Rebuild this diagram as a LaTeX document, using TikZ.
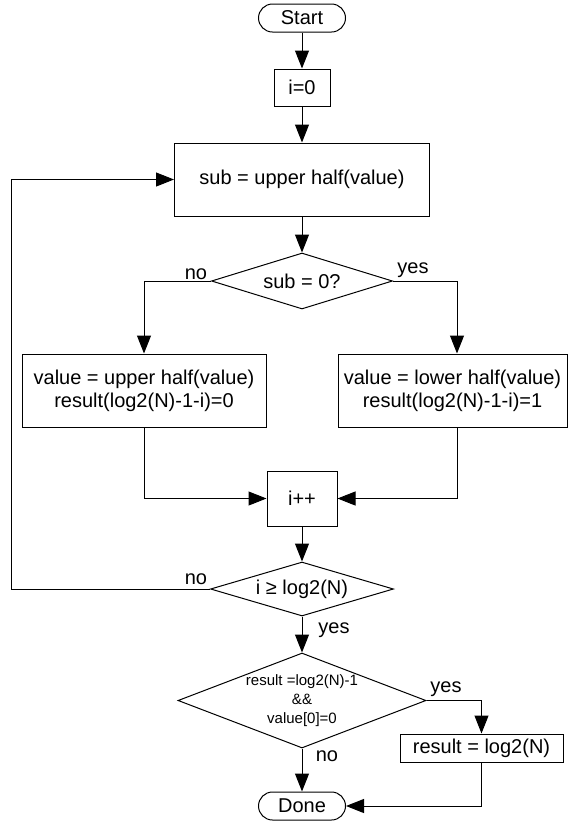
\documentclass[tikz,border=0pt]{standalone}
\usepackage{fontspec}
\setmainfont{Liberation Sans}
\usetikzlibrary{shapes.geometric,arrows.meta}
\begin{document}
\begin{tikzpicture}[x=1pt,y=-1pt,line width=1pt,
  every node/.style={font=\fontsize{20}{23}\selectfont},
  box/.style={draw,rectangle,inner sep=0pt,align=center},
  term/.style={draw,rectangle,rounded corners=14pt,minimum width=87pt,minimum height=28pt,inner sep=0pt},
  decision/.style={draw,diamond,inner sep=0pt},
  flow/.style={draw,-{Triangle[length=18pt,width=14pt]}},
  lbl/.style={inner sep=0pt},
  small/.style={font=\fontsize{15}{19}\selectfont,align=center},
]
\useasboundingbox (0,0) rectangle (568,823);

% process steps
\node[term] (start) at (302,18) {Start};
\node[box,minimum width=56pt,minimum height=37pt] (init) at (302,87.5) {i=0};
\node[box,minimum width=255pt,minimum height=73pt] (sub) at (302,179.5) {sub = upper half(value)};
\node[decision,minimum width=181pt,minimum height=56pt,label=center:{sub = 0?}] (d1) at (302,281) {};
\node[box,minimum width=244pt,minimum height=73pt] (lbox) at (144,390.5)
  {value = upper half(value)\\result(log2(N)-1-i)=0};
\node[box,minimum width=229pt,minimum height=73pt] (rbox) at (452.5,390.5)
  {value = lower half(value)\\result(log2(N)-1-i)=1};
\node[box,minimum width=70pt,minimum height=55pt] (inc) at (302,498.5) {i++};
\node[decision,minimum width=183pt,minimum height=54pt,label=center:{i ≥ log2(N)}] (d2) at (302,589) {};
\node[decision,minimum width=248pt,minimum height=95pt,
  label={[small]center:{result =log2(N)-1\\\&\&\\value[0]=0}}] (d3) at (302,700.5) {};
\node[box,minimum width=163pt,minimum height=28pt] (res) at (481.5,748) {result = log2(N)};
\node[term] (done) at (302,806) {Done};

% branch labels
\node[lbl] (no1) at (196,274) {no};
\node[lbl] (yes1) at (413,270) {yes};
\node[lbl] (no2) at (196,579.5) {no};
\node[lbl] (yes2) at (334,630) {yes};
\node[lbl] (yes3) at (446,689) {yes};
\node[lbl] (no3) at (327,756) {no};

% connectors
\coordinate (back) at (11,589);
\draw[flow] (start) -- (init);
\draw[flow] (init) -- (sub);
\draw[flow] (sub) -- (d1);
\draw[flow] (d1.west) -| (lbox.north);
\draw[flow] (d1.east) -| ([xshift=4.5pt]rbox.north);
\draw[flow] (lbox.south) |- (inc.west);
\draw[flow] ([xshift=4.5pt]rbox.south) |- (inc.east);
\draw[flow] (inc) -- (d2);
\draw[flow] (d2.west) -- (back) |- (sub.west);
\draw[flow] (d2) -- (d3);
\draw[flow] (d3.east) -| (res.north);
\draw[flow] (d3) -- (done);
\draw[flow] (res.south) |- (done.east);
\end{tikzpicture}
\end{document}
